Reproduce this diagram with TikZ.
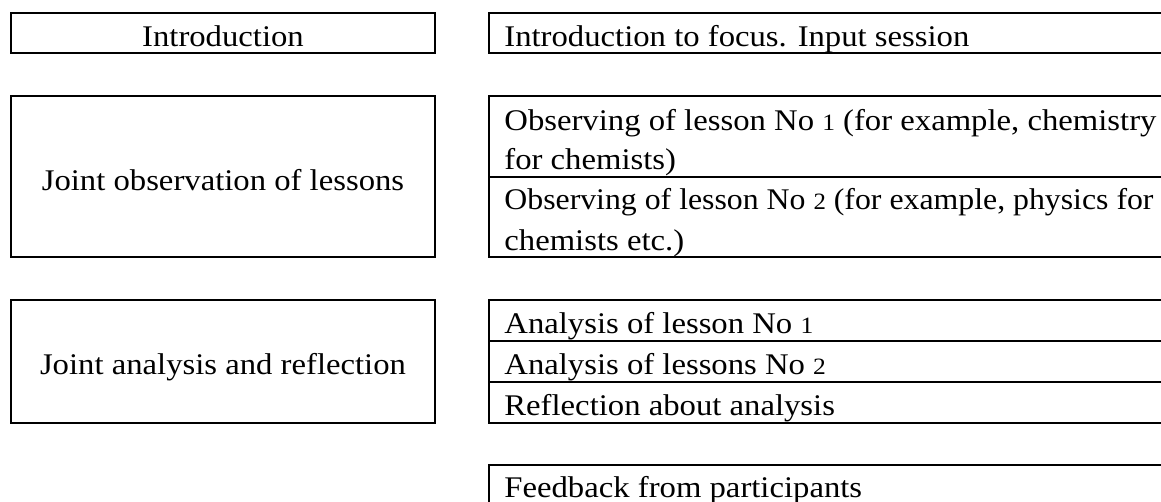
\documentclass[tikz,border=0pt]{standalone}
\usepackage{fontspec}
\usepackage{graphicx}
\setmainfont{Liberation Serif}
\newcommand\osf[1]{\scalebox{0.78}{#1}}
\newcommand\lt[1]{\scalebox{1.09}[1]{#1}}
\newcommand\rt[2][1.09]{\scalebox{#1}[1]{#2}}
\begin{document}
\begin{tikzpicture}[x=0.5pt,y=-0.5pt,
  frame/.style={line width=1pt, draw=black},
  ltext/.style={anchor=base, inner sep=0pt, font=\fontsize{15}{20}\selectfont},
  rtext/.style={anchor=base west, inner sep=0pt, font=\fontsize{15}{20}\selectfont}]
\useasboundingbox (0,0) rectangle (1161,502);
\clip (0,0) rectangle (1161,502);
% frames
\draw[frame] (11,13) rectangle (435,53);
\draw[frame] (489,13) rectangle (1180,53);
\draw[frame] (11,96) rectangle (435,257);
\draw[frame] (489,96) rectangle (1180,257);
\draw[frame] (489,177) -- (1180,177);
\draw[frame] (11,300) rectangle (435,423);
\draw[frame] (489,300) rectangle (1180,423);
\draw[frame] (489,341) -- (1180,341);
\draw[frame] (489,382) -- (1180,382);
\draw[frame] (489,465) rectangle (1180,530);
% left texts
\node[ltext] (l1) at (223,47) {\lt{Introduction}};
\node[ltext] (l2) at (223,191) {\lt{Joint observation of lessons}};
\node[ltext] (l3) at (223,374) {\lt{Joint analysis and reflection}};
% right texts
\node[rtext] (r1) at (504,47) {\rt{Introduction to focus. Input session}};
\node[rtext] (r2a) at (504,131) {\rt{Observing of lesson No \osf{1} (for example, chemistry}};
\node[rtext] (r2b) at (504,170) {\rt{for chemists)}};
\node[rtext] (r3a) at (504,210) {\rt[1.06]{Observing of lesson No \osf{2} (for example, physics for}};
\node[rtext] (r3b) at (504,250) {\rt{chemists etc.)}};
\node[rtext] (r4) at (504,333) {\rt{Analysis of lesson No \osf{1}}};
\node[rtext] (r5) at (504,374) {\rt{Analysis of lessons No \osf{2}}};
\node[rtext] (r6) at (504,415) {\rt{Reflection about analysis}};
\node[rtext] (r7) at (504,497) {\rt{Feedback from participants}};
\end{tikzpicture}
\end{document}
